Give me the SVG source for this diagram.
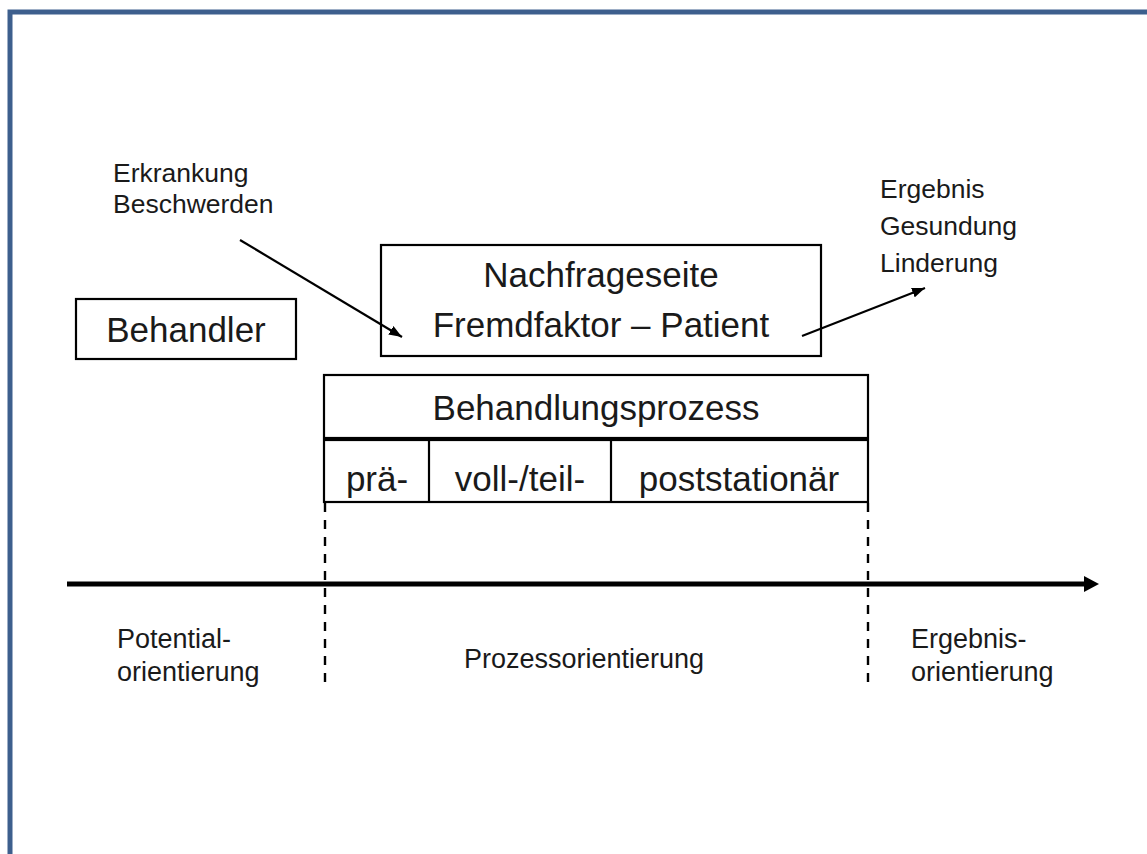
<svg xmlns="http://www.w3.org/2000/svg" width="1147" height="854" viewBox="0 0 1147 854">
  <style>
    .frame { fill: none; stroke: #3d5f8d; stroke-width: 5; }
    .box { fill: #ffffff; stroke: #000000; stroke-width: 2.2; }
    .t { font-family: "Liberation Sans", Arial, sans-serif; fill: #1a1a1a; }
    .big { font-size: 35px; }
    .small { font-size: 26.5px; }
    .lbl { font-size: 27px; }
    .mid { text-anchor: middle; }
    .conn { stroke: #000000; stroke-width: 2.2; fill: none; }
    .dash { stroke: #000000; stroke-width: 2.4; stroke-dasharray: 9 8; fill: none; }
    .axis { stroke: #000000; stroke-width: 5; fill: none; }
  </style>
  <defs>
    <marker id="arrow" markerUnits="userSpaceOnUse" markerWidth="13" markerHeight="10" refX="13" refY="5" orient="auto">
      <path d="M0,0 L13,5 L0,10 z" fill="#000000"/>
    </marker>
  </defs>

  <rect width="1147" height="854" fill="#ffffff"/>
  <!-- outer frame, open to the right and bottom -->
  <rect class="frame" x="10" y="12" width="1200" height="900"/>

  <g id="behandler">
    <rect class="box" x="76" y="299" width="220" height="60"/>
    <text class="t big mid" x="186" y="342">Behandler</text>
  </g>

  <g id="nachfrageseite">
    <rect class="box" x="381" y="245" width="440" height="111"/>
    <text class="t big mid" x="601" y="287">Nachfrageseite</text>
    <text class="t big mid" x="601" y="337">Fremdfaktor – Patient</text>
  </g>

  <g id="behandlungsprozess">
    <rect class="box" x="324" y="375" width="544" height="63"/>
    <text class="t big mid" x="596" y="420">Behandlungsprozess</text>
  </g>

  <g id="phasen">
    <rect class="box" x="324" y="440" width="544" height="62"/>
    <line class="conn" x1="429" y1="440" x2="429" y2="502"/>
    <line class="conn" x1="611" y1="440" x2="611" y2="502"/>
    <text class="t big mid" x="377" y="491">prä-</text>
    <text class="t big mid" x="520" y="491">voll-/teil-</text>
    <text class="t big mid" x="739" y="491">poststationär</text>
  </g>

  <g id="eingang">
    <text class="t small" x="113" y="182">Erkrankung</text>
    <text class="t small" x="113" y="213">Beschwerden</text>
  </g>

  <g id="ergebnis">
    <text class="t small" x="880" y="198">Ergebnis</text>
    <text class="t small" x="880" y="235">Gesundung</text>
    <text class="t small" x="880" y="272">Linderung</text>
  </g>

  <g id="potentialorientierung">
    <text class="t lbl" x="117" y="648">Potential-</text>
    <text class="t lbl" x="117" y="681">orientierung</text>
  </g>

  <g id="prozessorientierung">
    <text class="t lbl mid" x="584" y="668">Prozessorientierung</text>
  </g>

  <g id="ergebnisorientierung">
    <text class="t lbl" x="911" y="648">Ergebnis-</text>
    <text class="t lbl" x="911" y="681">orientierung</text>
  </g>

  <g id="connectors">
    <line class="conn" x1="240" y1="240" x2="402" y2="337" marker-end="url(#arrow)"/>
    <line class="conn" x1="802" y1="336" x2="925" y2="288" marker-end="url(#arrow)"/>
    <line class="dash" x1="325" y1="503" x2="325" y2="690"/>
    <line class="dash" x1="868" y1="503" x2="868" y2="690"/>
    <line class="axis" x1="67" y1="584" x2="1086" y2="584"/>
    <polygon points="1084,576 1099,584 1084,592" fill="#000000"/>
  </g>
</svg>
